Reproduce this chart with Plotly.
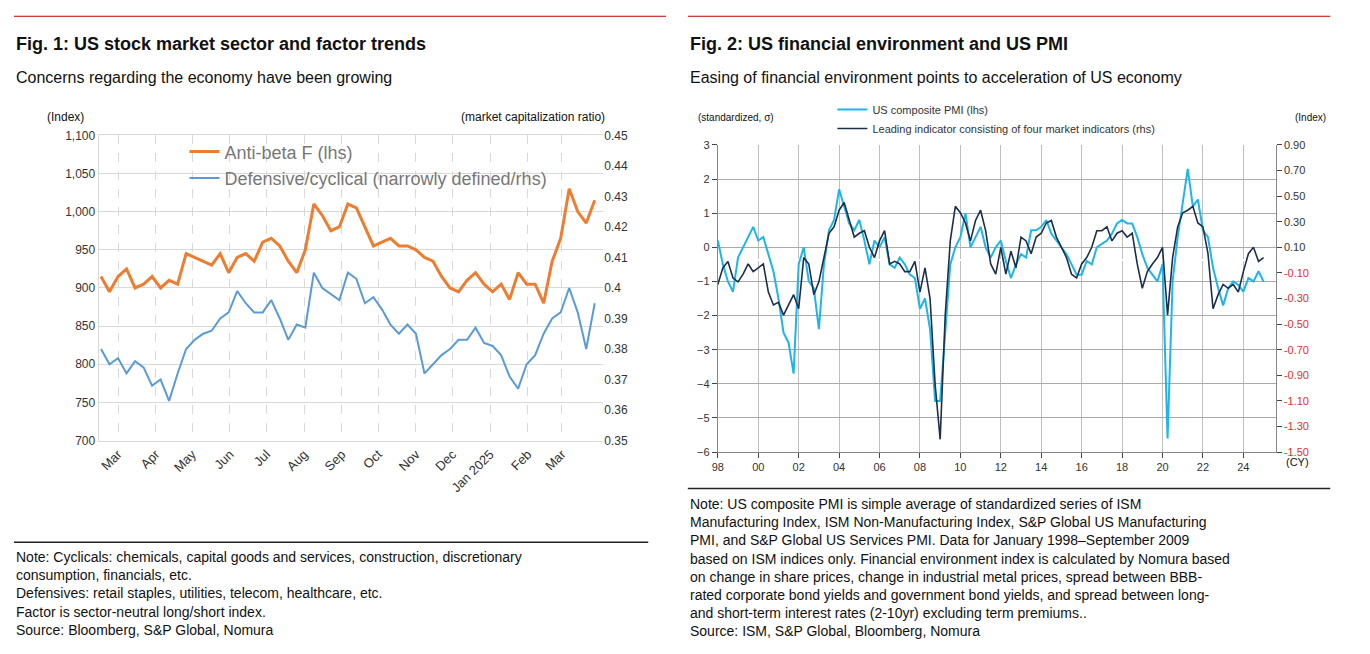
import pandas as pd
import plotly.graph_objects as go

# Fig. 1 data (weekly, Fridays)
week_dates = pd.date_range("2024-02-16", "2025-03-28", freq="7D")
anti_beta = [915, 895, 915, 925, 900, 905, 915, 900, 910, 905, 945, 940, 935, 930, 945, 920,
             940, 945, 935, 960, 965, 955, 935, 920, 950, 1010, 995, 975, 980, 1010, 1005, 980,
             955, 960, 965, 955, 955, 950, 940, 935, 915, 900, 895, 910, 920, 905, 895, 905,
             885, 920, 905, 905, 880, 935, 965, 1030, 1000, 985, 1015]
def_cyc = [0.380, 0.375, 0.377, 0.372, 0.376, 0.374, 0.368, 0.370, 0.363, 0.372, 0.380, 0.383,
           0.385, 0.386, 0.390, 0.392, 0.399, 0.395, 0.392, 0.392, 0.396, 0.390, 0.383, 0.388,
           0.387, 0.405, 0.400, 0.398, 0.396, 0.405, 0.403, 0.395, 0.397, 0.393, 0.388, 0.385,
           0.388, 0.385, 0.372, 0.375, 0.378, 0.380, 0.383, 0.383, 0.387, 0.382, 0.381, 0.378,
           0.371, 0.367, 0.375, 0.378, 0.385, 0.390, 0.392, 0.400, 0.392, 0.380, 0.395]
month_ticks = pd.date_range("2024-03-01", "2025-03-01", freq="MS")
month_labels = ["Mar", "Apr", "May", "Jun", "Jul", "Aug", "Sep", "Oct", "Nov", "Dec",
                "Jan 2025", "Feb", "Mar"]

# Fig. 2 data (quarterly, 1998Q1-2025Q1)
quarters = [1998 + i / 4 for i in range(109)]
pmi = [0.2, -0.5, -1.0, -1.3, -0.3, 0.0, 0.3, 0.6, 0.2, 0.3, -0.2, -0.7,
       -1.5, -2.5, -2.8, -3.7, -0.5, 0.0, -1.0, -1.2, -2.4, -0.5, 0.5, 0.8,
       1.7, 1.2, 0.7, 0.5, 0.8, 0.2, -0.5, 0.2, 0.0, 0.3, -0.5, -0.6,
       -0.3, -0.5, -0.8, -0.9, -1.8, -1.5, -2.4, -4.5, -4.5, -2.5, -0.5, 0.0,
       0.3, 1.0, 0.0, 0.3, 0.6, 0.0, -0.3, 0.0, 0.2, -0.4, -0.9, -0.5,
       -0.2, -0.3, 0.5, 0.5, 0.6, 0.8, 0.4, 0.2, 0.0, -0.2, -0.5, -0.8,
       -0.8, -0.4, -0.5, 0.0, 0.1, 0.2, 0.4, 0.7, 0.8, 0.7, 0.7, 0.3,
       -0.2, -0.6, -0.8, -1.0, -0.5, -5.6, -1.0, 0.3, 1.3, 2.3, 1.2, 1.4,
       0.5, 0.3, -0.6, -1.2, -1.7, -1.2, -1.0, -1.1, -1.3, -0.9, -1.0, -0.7, -1.0]
leading = [-0.19, -0.06, -0.01, -0.14, -0.17, -0.11, -0.03, -0.09, -0.06, -0.03, -0.25, -0.35,
           -0.33, -0.43, -0.35, -0.27, -0.38, 0.02, -0.03, -0.27, -0.17, 0.02, 0.21, 0.26,
           0.39, 0.45, 0.31, 0.18, 0.21, 0.23, 0.10, 0.02, 0.15, 0.23, -0.03, -0.01,
           -0.03, -0.09, -0.09, -0.01, -0.25, -0.06, -0.30, -0.97, -1.40, -0.43, 0.15, 0.42,
           0.37, 0.29, 0.15, 0.31, 0.39, 0.23, -0.03, -0.11, 0.10, -0.11, 0.07, -0.06,
           0.18, 0.15, 0.05, 0.18, 0.21, 0.29, 0.31, 0.18, 0.10, 0.02, -0.11, -0.14,
           -0.03, 0.02, 0.10, 0.23, 0.23, 0.26, 0.15, 0.21, 0.23, 0.18, 0.21, -0.03,
           -0.22, -0.09, -0.03, 0.02, 0.10, -0.43, 0.02, 0.26, 0.37, 0.39, 0.42, 0.29,
           0.26, 0.05, -0.38, -0.27, -0.19, -0.22, -0.19, -0.25, -0.09, 0.05, 0.10, -0.01, 0.02]
year_ticks = list(range(1998, 2025, 2))
year_labels = ["%02d" % (y % 100) for y in year_ticks]
rhs_ticks = [0.9 - 0.2 * i for i in range(13)]
rhs_labels = [("%.2f" % v if v > -0.001 else "<span style='color:#e03030'>%.2f</span>" % v)
              for v in rhs_ticks]

FONT = "Liberation Sans, Arial, sans-serif"

fig = go.Figure()

# Fig. 1 traces
fig.add_trace(go.Scatter(x=week_dates, y=anti_beta, name="Anti-beta F (lhs)",
                         line=dict(color="#ed7d31", width=3), xaxis="x", yaxis="y"))
fig.add_trace(go.Scatter(x=week_dates, y=def_cyc, name="Defensive/cyclical (narrowly defined/rhs)",
                         line=dict(color="#5b9bd5", width=2), xaxis="x", yaxis="y2"))

# Fig. 2 traces
fig.add_trace(go.Scatter(x=quarters, y=pmi, name="US composite PMI (lhs)",
                         line=dict(color="#1fb5e8", width=2), xaxis="x2", yaxis="y3",
                         legend="legend2"))
fig.add_trace(go.Scatter(x=quarters, y=leading,
                         name="Leading indicator consisting of four market indicators (rhs)",
                         line=dict(color="#1c2e4a", width=1.6), xaxis="x2", yaxis="y4",
                         legend="legend2"))

grid = "#d9d9d9"
fig.update_layout(
    width=1370, height=654, margin=dict(l=0, r=0, t=0, b=0),
    paper_bgcolor="white", plot_bgcolor="white",
    font=dict(family=FONT, size=12, color="#333"),
    xaxis=dict(domain=[0.062, 0.432], range=["2024-02-14", "2025-04-04"],
               tickvals=month_ticks, ticktext=month_labels, tickangle=-45,
               showgrid=True, gridcolor=grid, griddash="dash",
               showline=True, linecolor=grid, mirror=True, tickfont=dict(size=13)),
    yaxis=dict(domain=[0.335, 0.812], range=[700, 1100], dtick=50, tickformat=",",
               showgrid=True, gridcolor=grid, showline=True, linecolor=grid),
    yaxis2=dict(overlaying="y", side="right", anchor="x", range=[0.35, 0.45], dtick=0.01,
                tickvals=[0.35 + 0.01 * i for i in range(11)],
                ticktext=["0.35", "0.36", "0.37", "0.38", "0.39", "0.4", "0.41", "0.42",
                          "0.43", "0.44", "0.45"], showgrid=False),
    xaxis2=dict(domain=[0.516, 0.925], range=[1998, 2025.6], anchor="y3",
                tickvals=year_ticks, ticktext=year_labels, showgrid=True, gridcolor="#bfbfbf",
                showline=True, linecolor="#888", ticks="outside", tickfont=dict(size=11)),
    yaxis3=dict(domain=[0.317, 0.797], range=[-6, 3], dtick=1, anchor="x2",
                showgrid=True, gridcolor="#aaaaaa", showline=True, linecolor="#888",
                ticks="outside", zeroline=False, tickfont=dict(size=11)),
    yaxis4=dict(overlaying="y3", side="right", anchor="x2", range=[-1.5, 0.9],
                tickvals=rhs_ticks, ticktext=rhs_labels, showgrid=False, showline=True,
                linecolor="#888", ticks="outside", tickfont=dict(size=11)),
    legend=dict(x=0.125, y=0.815, xanchor="left", yanchor="top", bgcolor="rgba(0,0,0,0)",
                font=dict(size=18, color="#777")),
    legend2=dict(x=0.6, y=0.875, xanchor="left", yanchor="top", bgcolor="rgba(0,0,0,0)",
                 font=dict(size=11, color="#333"), tracegroupgap=0),
)

# titles, units and notes
texts = [
    (0.0, 0.955, "<b>Fig. 1: US stock market sector and factor trends</b>", 18),
    (0.0, 0.903, "Concerns regarding the economy have been growing", 16),
    (0.494, 0.955, "<b>Fig. 2: US financial environment and US PMI</b>", 18),
    (0.494, 0.903, "Easing of financial environment points to acceleration of US economy", 16),
    (0.023, 0.84, "(Index)", 12),
    (0.326, 0.84, "(market capitalization ratio)", 12),
    (0.5, 0.84, "(standardized, σ)", 10),
    (0.938, 0.84, "(Index)", 10),
    (0.931, 0.302, "(CY)", 11),
]
for x, y, t, s in texts:
    fig.add_annotation(x=x, y=y, xref="paper", yref="paper", text=t, showarrow=False,
                       xanchor="left", yanchor="middle", align="left",
                       font=dict(size=s, color="#111"))

notes = [
    (0.0, 0.168, "Note: Cyclicals: chemicals, capital goods and services, construction, discretionary<br>"
                 "consumption, financials, etc.<br>Defensives: retail staples, utilities, telecom, healthcare, etc.<br>"
                 "Factor is sector-neutral long/short index.<br>Source: Bloomberg, S&P Global, Nomura"),
    (0.494, 0.252, "Note: US composite PMI is simple average of standardized series of ISM<br>"
                   "Manufacturing Index, ISM Non-Manufacturing Index, S&P Global US Manufacturing<br>"
                   "PMI, and S&P Global US Services PMI. Data for January 1998–September 2009<br>"
                   "based on ISM indices only. Financial environment index is calculated by Nomura based<br>"
                   "on change in share prices, change in industrial metal prices, spread between BBB-<br>"
                   "rated corporate bond yields and government bond yields, and spread between long-<br>"
                   "and short-term interest rates (2-10yr) excluding term premiums..<br>"
                   "Source: ISM, S&P Global, Bloomberg, Nomura"),
]
for x, y, t in notes:
    fig.add_annotation(x=x, y=y, xref="paper", yref="paper", text=t, showarrow=False,
                       xanchor="left", yanchor="top", align="left",
                       font=dict(size=14, color="#111"))

for x0, x1 in [(0.0, 0.478), (0.494, 0.965)]:
    fig.add_shape(type="line", xref="paper", yref="paper", x0=x0, x1=x1, y0=0.998, y1=0.998,
                  line=dict(color="#c00000", width=1))
fig.add_shape(type="line", xref="paper", yref="paper", x0=0.0, x1=0.465, y0=0.176, y1=0.176,
              line=dict(color="#222", width=1.5))
fig.add_shape(type="line", xref="paper", yref="paper", x0=0.494, x1=0.965, y0=0.26, y1=0.26,
              line=dict(color="#222", width=1.5))

fig.write_html("out.html")
